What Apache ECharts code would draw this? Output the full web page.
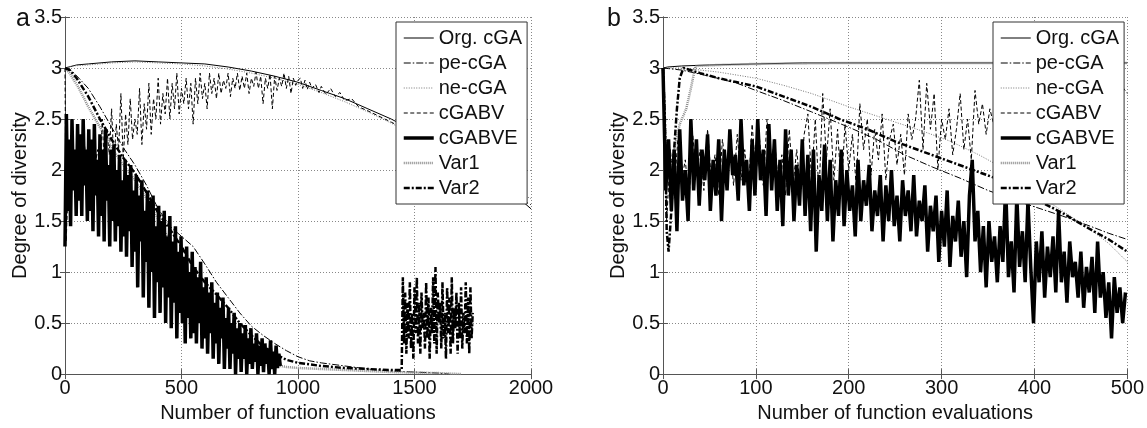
<!DOCTYPE html>
<html>
<head>
<meta charset="utf-8">
<script src="https://cdn.jsdelivr.net/npm/echarts@6/dist/echarts.min.js"></script>
<style>
html,body{margin:0;padding:0;background:#fff;}
#c{width:1147px;height:428px;}
</style>
</head>
<body>
<div id="c"></div>
<script>
// ---------- DATA ----------
const seriesNames = ['Org. cGA', 'pe-cGA', 'ne-cGA', 'cGABV', 'cGABVE', 'Var1', 'Var2'];
const panelLetters = ['a', 'b'];
const xTitle = 'Number of function evaluations';
const yTitle = 'Degree of diversity';
const xMaxA = 2000, xStepA = 500;
const xMaxB = 500, xStepB = 100;
const yMax = 3.5, yStep = 0.5;

// ----- panel a -----
const orgA = [[0,3.0],[50,3.03],[100,3.04],[200,3.06],[300,3.07],[400,3.06],[500,3.05],[600,3.04],[700,3.01],[800,2.97],[900,2.92],[1000,2.86],[1100,2.78],[1200,2.7],[1300,2.6],[1400,2.5],[1450,2.44],[1500,2.37],[1600,2.22],[1700,2.06],[1800,1.9],[1900,1.77],[1950,1.72],[2000,1.62]];
const peA = [[0,3.0],[30,2.97],[60,2.9],[100,2.8],[150,2.62],[200,2.42],[250,2.22],[300,2.05],[350,1.85],[400,1.62],[450,1.45],[500,1.35],[550,1.25],[600,1.08],[650,0.9],[700,0.75],[750,0.6],[800,0.47],[850,0.38],[900,0.3],[950,0.23],[1000,0.17],[1050,0.13],[1100,0.11],[1200,0.08],[1300,0.05],[1400,0.03],[1500,0.02],[1600,0.01],[1650,0.0]];
const neA = [[0,3.0],[30,3.02],[100,3.03],[200,3.05],[300,3.06],[400,3.05],[500,3.04],[600,3.02],[700,2.99],[800,2.95],[900,2.9],[1000,2.84],[1100,2.76],[1200,2.67],[1300,2.57],[1400,2.46],[1500,2.34],[1600,2.2],[1700,2.05],[1800,1.92],[1900,1.82],[2000,1.72]];
const cgabvAStart = [[0,3.0],[5,1.3],[20,2.2],[50,1.9],[80,2.3],[110,1.8],[140,2.2]];
const cgabvANoiseX0 = 150, cgabvANoiseDx = 10;
const cgabvANoise = [
  2.0,2.5,1.95,2.4,2.15,2.6,2.05,2.45,2.2,2.75,
  2.1,2.55,2.25,2.7,2.3,2.5,2.35,2.8,2.25,2.65,
  2.4,2.85,2.35,2.7,2.5,2.9,2.45,2.75,2.55,2.9,
  2.5,2.85,2.6,2.95,2.55,2.8,2.65,2.9,2.6,2.85,
  2.45,2.9,2.65,2.95,2.7,2.85,2.6,2.95,2.75,2.9,
  2.7,2.95,2.75,2.88,2.8,2.95,2.72,2.9,2.8,2.95,
  2.78,2.92,2.8,2.95,2.75,2.9,2.82,2.96,2.8,2.92,
  2.65,2.9,2.8,2.94,2.6,2.92,2.78,2.9,2.82,2.95,
  2.8,2.92,2.75,2.9,2.83,2.88];
const cgabvATail = [[1010,2.9],[1020,2.8],[1030,2.88],[1040,2.79],[1050,2.86],[1060,2.8],[1075,2.84],[1090,2.76],[1100,2.82],[1120,2.74],[1140,2.8],[1160,2.72],[1180,2.76],[1200,2.68],[1230,2.7],[1260,2.62],[1300,2.58],[1400,2.47],[1500,2.35],[1600,2.2],[1700,2.05],[1800,1.9],[1900,1.78],[2000,1.66]];
const cgabveADx = 6;
const cgabveA = [
  1.25,2.55,1.6,2.3,1.45,2.5,1.8,2.2,1.55,
  2.45,1.7,2.35,1.55,2.5,1.85,2.2,1.5,
  2.4,1.6,2.3,1.4,2.45,1.75,2.1,1.35,
  2.35,1.55,2.2,1.3,2.4,1.7,2.05,1.25,
  2.2,1.5,2.25,1.3,2.0,1.45,2.15,1.2,1.9,
  1.35,2.1,1.15,1.95,1.4,2.05,1.05,1.8,
  1.2,1.95,0.85,1.75,1.3,1.9,0.75,1.6,
  1.1,1.8,0.65,1.7,1.0,1.75,0.55,1.45,0.9,
  1.65,0.6,1.5,0.85,1.6,0.5,1.35,0.75,
  1.55,0.45,1.3,0.7,1.45,0.35,1.2,0.6,
  1.35,0.5,1.15,0.3,1.25,0.55,1.0,0.35,1.2,
  0.4,1.05,0.3,0.95,0.5,1.1,0.25,0.85,
  0.35,0.95,0.2,0.8,0.4,0.9,0.15,0.7,
  0.3,0.8,0.1,0.65,0.35,0.75,0.05,0.55,0.25,
  0.65,0.05,0.5,0.2,0.6,0.0,0.45,0.15,
  0.5,0.02,0.4,0.15,0.48,0.0,0.35,0.1,
  0.45,0.05,0.3,0.12,0.4,0.0,0.28,0.08,0.35,
  0.02,0.3,0.1,0.25,0.0,0.33,0.05,0.22,
  0.0,0.28,0.06,0.2,0.08];
const var1A = [[0,3.0],[20,2.95],[60,2.8],[100,2.62],[150,2.42],[200,2.22],[250,2.05],[300,1.9],[350,1.72],[400,1.52],[450,1.3],[500,1.1],[550,0.9],[600,0.72],[650,0.56],[700,0.42],[750,0.3],[800,0.2],[850,0.13],[900,0.09],[950,0.07],[1000,0.06],[1200,0.04],[1400,0.02],[1600,0.01],[1700,0.0]];
const var2ACurve = [[0,3.0],[20,2.98],[50,2.9],[100,2.72],[150,2.5],[200,2.3],[250,2.12],[300,1.97],[350,1.78],[400,1.58],[450,1.42],[500,1.25],[550,1.05],[600,0.9],[650,0.78],[700,0.65],[750,0.5],[800,0.38],[850,0.27],[900,0.2],[950,0.14],[1000,0.11],[1100,0.08],[1200,0.06],[1300,0.05],[1400,0.04],[1445,0.04]];
const var2ANoiseX0 = 1450, var2ANoiseDx = 5;
const var2ANoise = [
  0.95,0.3,0.8,0.2,0.7,0.35,0.9,0.25,0.6,0.15,
  0.85,0.4,0.95,0.3,0.7,0.2,0.8,0.45,0.6,0.25,
  0.9,0.35,0.75,0.15,0.65,0.4,0.95,0.3,1.05,0.2,
  0.8,0.5,0.7,0.25,0.9,0.35,0.6,0.15,0.85,0.4,
  0.75,0.2,0.95,0.3,0.65,0.45,0.8,0.2,0.7,0.35,
  0.85,0.25,0.6,0.4,0.9,0.3,0.75,0.2,0.85,0.35,0.6];

// ----- panel b -----
const orgB = [[0,3.0],[5,3.01],[20,3.02],[50,3.03],[100,3.04],[150,3.05],[200,3.05],[300,3.05],[400,3.05],[500,3.05]];
const peB = [[0,3.0],[20,2.98],[50,2.92],[80,2.85],[100,2.78],[130,2.68],[160,2.57],[200,2.42],[230,2.3],[260,2.15],[290,2.03],[320,1.92],[350,1.8],[380,1.7],[400,1.64],[430,1.55],[460,1.45],[480,1.38],[500,1.32]];
const neB = [[0,3.0],[20,3.0],[40,2.98],[60,2.96],[80,2.93],[100,2.9],[130,2.83],[160,2.75],[200,2.62],[240,2.5],[280,2.38],[310,2.28],[340,2.15],[370,2.0],[400,1.78],[430,1.6],[460,1.42],[480,1.28],[500,1.1]];
const cgabvBDx = 4;
const cgabvB = [
  3.0,1.5,2.2,1.8,2.3,1.9,2.1,1.7,2.35,1.95,
  2.2,1.8,2.4,1.9,2.15,1.75,2.3,2.0,2.25,1.85,
  2.35,1.9,2.2,1.8,2.45,1.95,2.3,1.85,2.5,2.0,
  2.3,1.9,2.15,1.75,2.4,1.85,2.2,1.8,2.35,2.55,
  1.9,2.5,1.75,2.75,2.1,2.6,1.9,2.4,1.8,2.45,
  2.0,2.35,1.85,2.65,2.2,2.5,1.95,2.4,2.1,2.55,
  1.9,2.3,2.45,2.05,2.35,1.95,2.55,2.3,2.5,2.88,
  2.2,2.85,2.4,2.75,2.0,2.5,2.3,2.6,2.15,2.4,
  2.75,2.2,2.5,2.1,2.78,2.45,2.65,2.35,2.6,2.45,
  2.55,2.4,2.6,2.45,2.55,2.5,2.62,2.45,2.6,2.5,
  2.65,2.5,2.7,2.55,2.6,2.5,2.7,2.55,2.65,2.6,
  2.7,2.55,2.65,2.6,2.75,2.55,2.7,2.6,2.65,2.7,
  2.6,2.75,2.65,2.7,2.8,2.75];
const cgabveBDx = 3;
const cgabveB = [
  3.0,1.8,2.3,1.6,2.2,1.4,2.4,1.7,2.0,1.5,
  2.5,1.8,2.3,1.65,2.2,1.9,2.35,1.6,2.1,1.75,
  2.3,1.5,2.2,1.8,2.4,1.95,2.15,1.7,2.5,1.85,
  2.1,1.6,2.3,1.75,2.5,1.9,2.2,1.55,2.45,1.8,
  2.3,1.6,2.1,1.45,2.4,1.75,2.2,1.5,2.05,1.65,
  2.3,1.55,2.15,1.4,2.2,1.2,1.95,1.6,2.25,1.5,
  2.1,1.3,1.9,1.55,2.2,1.45,2.0,1.6,1.85,1.35,
  2.1,1.5,1.9,1.65,2.05,1.4,1.8,1.55,1.95,1.3,
  1.85,1.5,2.0,1.45,1.75,1.3,1.9,1.55,1.8,1.4,
  1.95,1.35,1.7,1.5,1.85,1.2,1.65,1.4,1.75,1.1,
  1.6,1.25,1.8,1.05,1.55,1.3,1.7,1.15,1.5,0.95,
  1.75,2.1,1.3,1.6,1.0,1.45,0.85,1.5,1.1,1.35,
  0.9,1.45,1.1,1.85,0.95,1.3,0.8,1.75,1.05,1.4,
  0.9,1.7,1.05,0.5,1.3,0.9,1.4,0.75,1.25,0.95,
  1.35,0.8,1.6,0.9,1.2,0.7,1.3,0.95,1.1,0.75,
  1.2,0.65,1.05,0.8,1.15,0.6,1.3,0.75,1.0,0.55,
  0.9,0.35,0.95,0.6,0.85,0.5,0.8];
const var1B = [[0,3.0],[3,2.2],[8,1.95],[12,2.2],[18,2.45],[25,2.6],[30,2.8],[35,3.02],[60,3.03],[100,3.04],[200,3.05],[300,3.05],[400,3.05],[500,3.05]];
const var2B = [[0,3.0],[2,2.5],[4,1.4],[6,1.2],[9,1.6],[12,2.2],[15,2.6],[18,2.9],[22,3.0],[40,2.95],[60,2.9],[80,2.86],[100,2.82],[130,2.72],[160,2.62],[190,2.5],[220,2.4],[250,2.28],[280,2.18],[310,2.08],[340,1.98],[370,1.88],[400,1.72],[430,1.58],[460,1.42],[480,1.32],[500,1.2]];

// ---------- BUILD ----------
function seq(x0, dx, ys) { return ys.map((y, i) => [x0 + i * dx, y]); }

const FONT = '"Liberation Sans", Arial, Helvetica, sans-serif';
const TXT = '#111';
const FRAME = '#555';

const styles = {
  'Org. cGA': { color: '#000', width: 1, type: 'solid' },
  'pe-cGA':   { color: '#000', width: 1, type: [7, 2, 1.5, 2] },
  'ne-cGA':   { color: '#777', width: 1, type: [1, 1.5] },
  'cGABV':    { color: '#000', width: 1, type: [4, 2.5] },
  'cGABVE':   { color: '#000', width: 3.5, type: 'solid' },
  'Var1':     { color: '#8a8a8a', width: 2.5, type: [1, 1] },
  'Var2':     { color: '#000', width: 2.5, type: [6, 2, 2, 2] }
};

const panelData = [
  {
    'Org. cGA': orgA, 'pe-cGA': peA, 'ne-cGA': neA,
    'cGABV': cgabvAStart.concat(seq(cgabvANoiseX0, cgabvANoiseDx, cgabvANoise), cgabvATail),
    'cGABVE': seq(0, cgabveADx, cgabveA),
    'Var1': var1A,
    'Var2': var2ACurve.concat(seq(var2ANoiseX0, var2ANoiseDx, var2ANoise))
  },
  {
    'Org. cGA': orgB, 'pe-cGA': peB, 'ne-cGA': neB,
    'cGABV': seq(0, cgabvBDx, cgabvB),
    'cGABVE': seq(0, cgabveBDx, cgabveB),
    'Var1': var1B, 'Var2': var2B
  }
];

const grids = [
  { left: 65, top: 17, right: 616, bottom: 45.5 },
  { left: 663, top: 17, right: 19, bottom: 45.5 }
];
const xRanges = [[xMaxA, xStepA], [xMaxB, xStepB]];

const xAxes = [], yAxes = [], series = [];
const labelStyle = { fontSize: 20, fontFamily: FONT, color: TXT, formatter: v => String(v) };
const splitStyle = { show: true, lineStyle: { color: '#888', type: [1, 2], width: 1 } };

grids.forEach((g, gi) => {
  const [xm, xs] = xRanges[gi];
  xAxes.push({
    type: 'value', gridIndex: gi, min: 0, max: xm, interval: xs, position: 'bottom',
    axisLine: { show: true, lineStyle: { color: FRAME, width: 1 } },
    axisTick: { show: true, inside: true, length: 5, lineStyle: { color: FRAME } },
    axisLabel: Object.assign({ margin: 4 }, labelStyle),
    splitLine: splitStyle,
    name: xTitle, nameLocation: 'middle', nameGap: 21,
    nameTextStyle: { fontSize: 20, fontFamily: FONT, color: TXT }
  });
  xAxes.push({
    type: 'value', gridIndex: gi, min: 0, max: xm, interval: xs, position: 'top',
    axisLine: { show: true, lineStyle: { color: FRAME, width: 1 } },
    axisTick: { show: true, inside: true, length: 5, lineStyle: { color: FRAME } },
    axisLabel: { show: false }, splitLine: { show: false }
  });
  yAxes.push({
    type: 'value', gridIndex: gi, min: 0, max: yMax, interval: yStep, position: 'left',
    axisLine: { show: true, lineStyle: { color: FRAME, width: 1 } },
    axisTick: { show: true, inside: true, length: 5, lineStyle: { color: FRAME } },
    axisLabel: Object.assign({ margin: 3 }, labelStyle),
    splitLine: splitStyle,
    name: yTitle, nameLocation: 'middle', nameGap: 34, nameRotate: 90,
    nameTextStyle: { fontSize: 20, fontFamily: FONT, color: TXT }
  });
  yAxes.push({
    type: 'value', gridIndex: gi, min: 0, max: yMax, interval: yStep, position: 'right',
    axisLine: { show: true, lineStyle: { color: FRAME, width: 1 } },
    axisTick: { show: true, inside: true, length: 5, lineStyle: { color: FRAME } },
    axisLabel: { show: false }, splitLine: { show: false }
  });
  seriesNames.forEach(name => {
    const st = styles[name];
    series.push({
      type: 'line', name: name,
      xAxisIndex: gi * 2, yAxisIndex: gi * 2,
      data: panelData[gi][name],
      symbol: 'none', showSymbol: false, smooth: false,
      lineStyle: { color: st.color, width: st.width, type: st.type },
      itemStyle: { color: st.color },
      emphasis: { disabled: true },
      z: name === 'cGABVE' ? 3 : 2
    });
  });
});

const legendItems = seriesNames.map(name => ({
  name: name,
  lineStyle: { color: styles[name].color, width: styles[name].width, type: styles[name].type }
}));

const legendBase = {
  orient: 'vertical', top: 22,
  itemWidth: 30, itemHeight: 14, itemGap: 5,
  padding: [6, 5, 6, 6],
  backgroundColor: '#fff', borderColor: '#333', borderWidth: 1, borderRadius: 0,
  textStyle: { fontSize: 20, fontFamily: FONT, color: TXT },
  itemStyle: { color: 'rgba(0,0,0,0)', borderWidth: 0, opacity: 0 },
  selectedMode: false,
  data: legendItems
};

const option = {
  animation: false,
  backgroundColor: '#fff',
  title: [
    { text: panelLetters[0], left: 16, top: 7, textStyle: { fontSize: 25, fontWeight: 'normal', fontFamily: FONT, color: TXT }, padding: 0 },
    { text: panelLetters[1], left: 607, top: 7, textStyle: { fontSize: 25, fontWeight: 'normal', fontFamily: FONT, color: TXT }, padding: 0 }
  ],
  grid: grids,
  xAxis: xAxes,
  yAxis: yAxes,
  legend: [
    Object.assign({}, legendBase, { left: 396 }),
    Object.assign({}, legendBase, { left: 993 })
  ],
  tooltip: { show: false },
  series: series
};

const chart = echarts.init(document.getElementById('c'), null, { renderer: 'canvas' });
chart.setOption(option);
</script>
</body>
</html>
